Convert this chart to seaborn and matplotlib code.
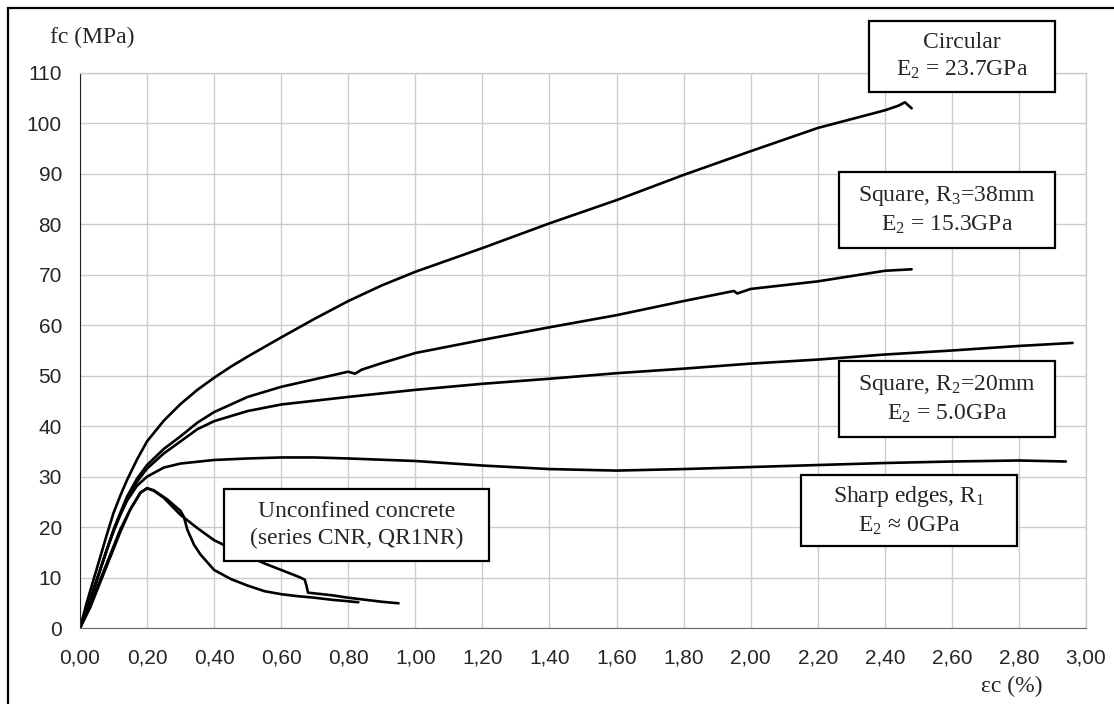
import matplotlib
matplotlib.use("Agg")
import matplotlib.pyplot as plt
from matplotlib.patches import Rectangle
from matplotlib.ticker import FuncFormatter
import seaborn as sns

# strain (%) / stress (MPa)
circ_x = [0, 0.02, 0.04, 0.06, 0.08, 0.10, 0.12, 0.14, 0.17, 0.20, 0.25, 0.30, 0.35, 0.40, 0.45,
          0.50, 0.60, 0.70, 0.80, 0.90, 1.00, 1.20, 1.40, 1.60, 1.80, 2.00, 2.20, 2.40, 2.44,
          2.46, 2.48]
circ_y = [0, 5, 9.5, 14, 18.5, 22.8, 26.2, 29.3, 33.4, 37, 41.1, 44.4, 47.2, 49.6, 51.8,
          53.8, 57.6, 61.3, 64.8, 67.9, 70.6, 75.3, 80.2, 84.8, 89.8, 94.5, 99.1, 102.6, 103.5,
          104.2, 103]

sq38_x = [0, 0.02, 0.04, 0.06, 0.08, 0.10, 0.12, 0.14, 0.17, 0.20, 0.25, 0.30, 0.35, 0.40, 0.50,
          0.60, 0.70, 0.80, 0.82, 0.84, 0.90, 1.00, 1.20, 1.40, 1.60, 1.80, 1.95, 1.96, 2.00,
          2.20, 2.40, 2.48]
sq38_y = [0, 3.5, 7.5, 11.5, 15.5, 19.5, 22.8, 26, 29.6, 32.3, 35.5, 38.0, 40.7, 42.8, 45.8,
          47.8, 49.3, 50.8, 50.4, 51.2, 52.5, 54.5, 57.1, 59.6, 62, 64.8, 66.8, 66.3, 67.2,
          68.7, 70.8, 71.1]

sq20_x = [0, 0.02, 0.04, 0.06, 0.08, 0.10, 0.12, 0.14, 0.17, 0.20, 0.25, 0.30, 0.35, 0.40, 0.50,
          0.60, 0.80, 1.00, 1.20, 1.40, 1.60, 1.80, 2.00, 2.20, 2.40, 2.60, 2.80, 2.96]
sq20_y = [0, 3.5, 7.5, 11.5, 15.5, 19.2, 22.5, 25.5, 29, 31.6, 34.6, 37.0, 39.4, 41.0, 43,
          44.3, 45.8, 47.2, 48.4, 49.4, 50.5, 51.4, 52.4, 53.2, 54.2, 55.0, 55.9, 56.5]

sharp_x = [0, 0.02, 0.04, 0.06, 0.08, 0.10, 0.12, 0.14, 0.17, 0.20, 0.25, 0.30, 0.40, 0.50, 0.60,
           0.70, 0.80, 1.00, 1.20, 1.40, 1.60, 1.80, 2.00, 2.20, 2.40, 2.60, 2.80, 2.94]
sharp_y = [0, 3.5, 7.5, 11.5, 15.5, 19.2, 22.4, 25.2, 28.2, 30, 31.8, 32.6, 33.3, 33.6, 33.8,
           33.8, 33.6, 33.1, 32.2, 31.5, 31.2, 31.5, 31.9, 32.3, 32.7, 33.0, 33.2, 33.0]

unc1_x = [0, 0.03, 0.06, 0.09, 0.12, 0.15, 0.18, 0.20, 0.22, 0.26, 0.30, 0.31, 0.32, 0.34, 0.36,
          0.40, 0.45, 0.50, 0.55, 0.60, 0.65, 0.70, 0.75, 0.80, 0.83]
unc1_y = [0, 4.5, 9.5, 14.5, 19.5, 23.5, 26.8, 27.7, 27.3, 25.5, 23.2, 22, 19.5, 16.5, 14.5,
          11.5, 9.7, 8.4, 7.3, 6.7, 6.3, 6.0, 5.6, 5.3, 5.1]

unc2_x = [0, 0.03, 0.06, 0.09, 0.12, 0.15, 0.18, 0.20, 0.22, 0.25, 0.30, 0.35, 0.40, 0.45, 0.50,
          0.55, 0.60, 0.65, 0.67, 0.675, 0.68, 0.75, 0.80, 0.85, 0.90, 0.95]
unc2_y = [0, 4, 9, 14, 19, 23.5, 26.8, 27.7, 27.2, 25.8, 22.4, 19.8, 17.4, 15.8, 14.3,
          12.8, 11.5, 10.2, 9.6, 8.5, 7.0, 6.5, 6.0, 5.6, 5.2, 4.9]

curves = [(circ_x, circ_y), (sq38_x, sq38_y), (sq20_x, sq20_y),
          (sharp_x, sharp_y), (unc1_x, unc1_y), (unc2_x, unc2_y)]

x_ticks = [i * 0.2 for i in range(16)]
y_ticks = list(range(0, 111, 10))

box_labels = [
    "Circular\nE$_2$ = 23.7GPa",
    "Square, R$_3$=38mm\nE$_2$ = 15.3GPa",
    "Square, R$_2$=20mm\nE$_2$ = 5.0GPa",
    "Sharp edges, R$_1$\nE$_2$ \u2248 0GPa",
    "Unconfined concrete\n(series CNR, QR1NR)",
]
# box extents in pixels: left, top, right, bottom
box_px = [(869, 21, 1055, 92), (839, 172, 1055, 248), (839, 361, 1055, 437),
          (801, 475, 1017, 546), (224, 489, 489, 561)]

sns.set_style("whitegrid")
plt.rcParams["font.family"] = ["Liberation Sans", "DejaVu Sans"]
plt.rcParams["mathtext.fontset"] = "custom"
plt.rcParams["mathtext.rm"] = "Liberation Serif"
plt.rcParams["mathtext.it"] = "Liberation Serif:italic"
serif = ["Liberation Serif", "DejaVu Serif"]

W, H = 1114, 704
fig = plt.figure(figsize=(W / 100, H / 100), dpi=100)
ax = fig.add_axes([80 / W, 1 - 628 / H, (1086 - 80) / W, (628 - 73) / H])

for xs, ys in curves:
    sns.lineplot(x=xs, y=ys, ax=ax, color="black", linewidth=1.9, estimator=None, sort=False)

ax.set_xlim(0, 3.0)
ax.set_ylim(0, 110)
ax.set_xticks(x_ticks)
ax.set_yticks(y_ticks)
ax.xaxis.set_major_formatter(FuncFormatter(lambda v, p: f"{v:.2f}".replace(".", ",")))
ax.grid(True, color="#cccccc", linewidth=1)
ax.tick_params(axis="both", labelsize=15, length=6, width=1, direction="out")
ax.tick_params(axis="x", pad=9, color="#666666")
ax.tick_params(axis="y", pad=7, color="#222222")
ax.spines["left"].set_color("#222222")
ax.spines["bottom"].set_color("#666666")
for s in ("top", "right"):
    ax.spines[s].set_color("#cccccc")
    ax.spines[s].set_linewidth(1)
ax.set_xlabel("")
ax.set_ylabel("")

fig.text(92 / W, 1 - 37 / H, "fc (MPa)", family=serif, fontsize=17, ha="center", va="center")
fig.text(1012 / W, 1 - 686 / H, "\u03b5c (%)", family=serif, fontsize=17, ha="center", va="center")

for label, (l, t, r, b) in zip(box_labels, box_px):
    fig.add_artist(Rectangle((l / W, 1 - b / H), (r - l) / W, (b - t) / H,
                             transform=fig.transFigure, facecolor="white",
                             edgecolor="black", linewidth=1.6, zorder=5))
    fig.text((l + r) / 2 / W, 1 - (t + b) / 2 / H, label, family=serif, fontsize=17,
             ha="center", va="center", linespacing=1.35, zorder=6)

# outer frame
fig.add_artist(Rectangle((8 / W, -0.05), 1.2, 1 - 8 / H + 0.05, transform=fig.transFigure,
                         fill=False, edgecolor="black", linewidth=1.6))

fig.savefig("out.png", dpi=100)
